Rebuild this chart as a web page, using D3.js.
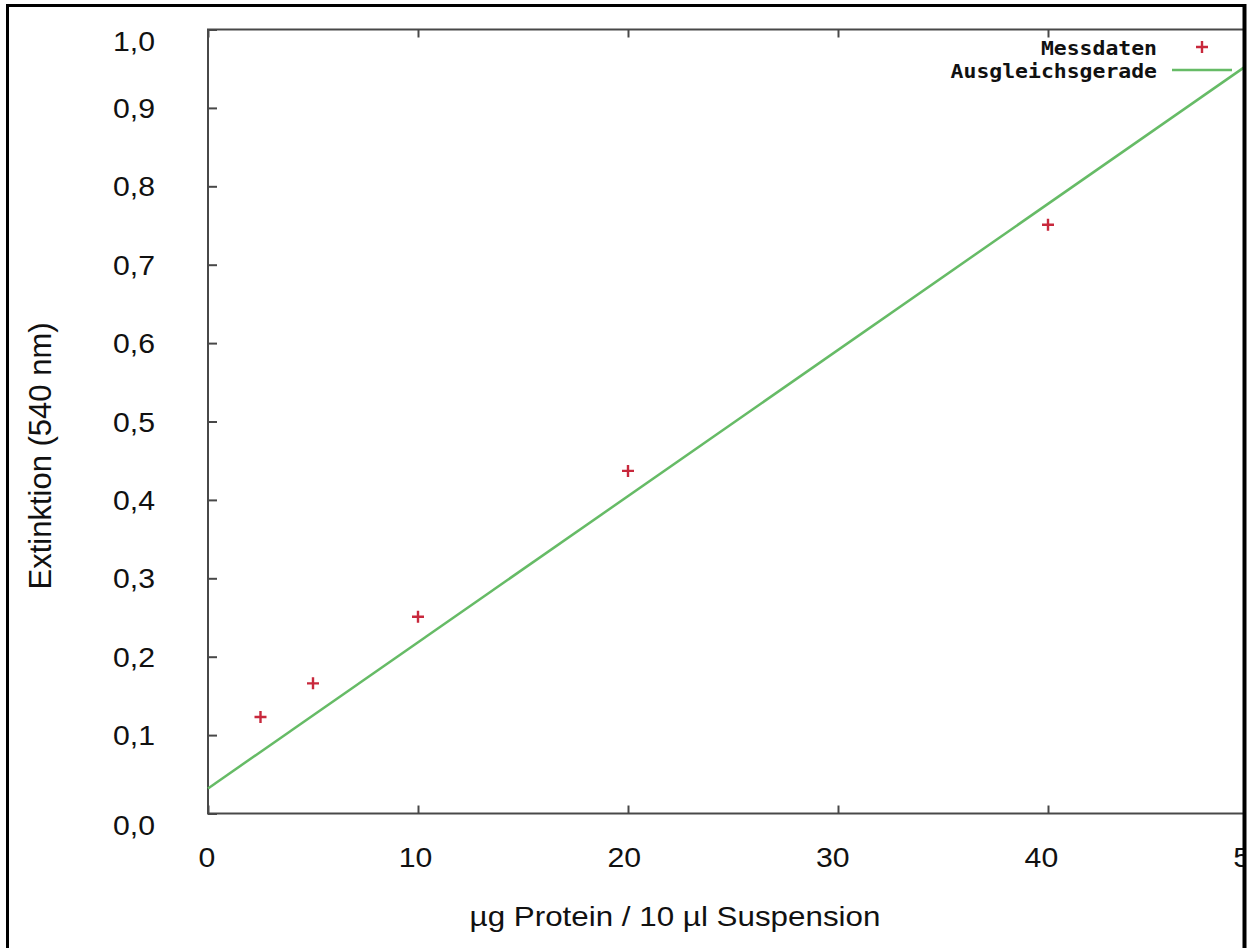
<!DOCTYPE html>
<html>
<head>
<meta charset="utf-8">
<script src="https://cdn.jsdelivr.net/npm/d3@7"></script>
<style>
  body { margin: 0; background: #fff; }
  svg { display: block; }
</style>
</head>
<body>
<div id="chart"></div>
<script>
// measured points (x: µg protein, y: extinction)
var messX = [2.5, 5, 10, 20, 40];
var messY = [0.123, 0.166, 0.251, 0.437, 0.751];

// fitted line end points
var fitX = [0, 50];
var fitY = [0.032, 0.964];

var xTicks = [0, 10, 20, 30, 40, 50];
var yTicks = [0, 0.1, 0.2, 0.3, 0.4, 0.5, 0.6, 0.7, 0.8, 0.9, 1.0];

var legendLabels = ["Messdaten", "Ausgleichsgerade"];

var width = 1247, height = 948;
var plot = {left: 208, top: 29.5, right: 1258, bottom: 813.5};

var svg = d3.select("#chart").append("svg")
    .attr("width", width)
    .attr("height", height);

var x = d3.scaleLinear().domain([0, 50]).range([plot.left, plot.right]);
var y = d3.scaleLinear().domain([0, 1]).range([plot.bottom, plot.top]);
// the tick labels sit on a slightly narrower scale than the ticks
var xLab = d3.scaleLinear().domain([0, 50]).range([207, 1250]);

var fmt = function(d) { return d3.format(".1f")(d).replace(".", ","); };

// ticks (inward, mirrored on top)
var axisColor = "#484848";
function styleAxis(g) {
    g.select(".domain").remove();
    g.selectAll(".tick line").attr("stroke", axisColor).attr("stroke-width", 2);
    g.selectAll(".tick text").remove();
}
svg.append("g")
    .attr("transform", "translate(" + plot.left + ",0)")
    .call(d3.axisLeft(y).tickValues(yTicks).tickSize(-9))
    .call(styleAxis);
svg.append("g")
    .attr("transform", "translate(0," + plot.bottom + ")")
    .call(d3.axisBottom(x).tickValues(xTicks).tickSize(-8))
    .call(styleAxis);
svg.append("g")
    .attr("transform", "translate(0," + plot.top + ")")
    .call(d3.axisTop(x).tickValues(xTicks).tickSize(-8))
    .call(styleAxis);

// plot frame
svg.append("rect")
    .attr("x", plot.left).attr("y", plot.top)
    .attr("width", plot.right - plot.left).attr("height", plot.bottom - plot.top)
    .attr("fill", "none").attr("stroke", axisColor).attr("stroke-width", 2);

// tick labels (text looks horizontally stretched in the original)
var labelFont = "'Liberation Sans', Arial, sans-serif";
svg.append("g").selectAll("text")
    .data(yTicks)
    .enter().append("text")
    .attr("transform", function(d) {
        // the end labels are pushed down a bit in the original
        var dy = (d === 0 || d === 1) ? 21 : 10;
        return "translate(155," + (y(d) + dy) + ") scale(1.12,1)";
    })
    .attr("text-anchor", "end")
    .attr("font-family", labelFont)
    .attr("font-size", 27)
    .attr("fill", "#111")
    .text(fmt);

svg.append("g").selectAll("text")
    .data(xTicks)
    .enter().append("text")
    .attr("transform", function(d) { return "translate(" + xLab(d) + ",867) scale(1.12,1)"; })
    .attr("text-anchor", "middle")
    .attr("font-family", labelFont)
    .attr("font-size", 27)
    .attr("fill", "#111")
    .text(function(d) { return d; });

// axis titles
svg.append("text")
    .attr("transform", "translate(675,926) scale(1.12,1)")
    .attr("text-anchor", "middle")
    .attr("font-family", labelFont)
    .attr("font-size", 28)
    .attr("fill", "#111")
    .text("µg Protein / 10 µl Suspension");

svg.append("text")
    .attr("transform", "translate(51,456) rotate(-90)")
    .attr("text-anchor", "middle")
    .attr("font-family", labelFont)
    .attr("font-size", 31)
    .attr("fill", "#111")
    .text("Extinktion (540 nm)");

// fit line
var green = "#66bb66";
var line = d3.line()
    .x(function(d, i) { return x(fitX[i]); })
    .y(function(d) { return y(d); });
svg.append("path")
    .datum(fitY)
    .attr("d", line)
    .attr("fill", "none")
    .attr("stroke", green)
    .attr("stroke-width", 2.5);

// data points as plus marks
var red = "#c8283c";
svg.append("g").selectAll("path")
    .data(messX)
    .enter().append("path")
    .attr("d", function(d, i) {
        var px = x(d), py = y(messY[i]);
        return "M" + (px - 6) + "," + py + "H" + (px + 6) + "M" + px + "," + (py - 6) + "V" + (py + 6);
    })
    .attr("stroke", red)
    .attr("stroke-width", 2.4)
    .attr("fill", "none");

// legend
var legend = svg.append("g");
legend.selectAll("text")
    .data(legendLabels)
    .enter().append("text")
    .attr("x", 1157)
    .attr("y", function(d, i) { return 55 + i * 23; })
    .attr("text-anchor", "end")
    .attr("font-family", "'DejaVu Sans Mono', monospace")
    .attr("font-weight", "bold")
    .attr("font-size", 19)
    .attr("fill", "#111")
    .attr("textLength", function(d) { return d.length * 12.9; })
    .attr("lengthAdjust", "spacingAndGlyphs")
    .text(function(d) { return d; });
legend.append("path")
    .attr("d", "M1196,47H1208M1202,41V53")
    .attr("stroke", red).attr("stroke-width", 2.4);
legend.append("line")
    .attr("x1", 1172).attr("x2", 1232)
    .attr("y1", 70).attr("y2", 70)
    .attr("stroke", green).attr("stroke-width", 2.5);

// outer frame of the picture
svg.append("path")
    .attr("d", "M7.5," + height + "V5.5H1244.5V" + height)
    .attr("fill", "none")
    .attr("stroke", "#000")
    .attr("stroke-width", 3);
svg.append("rect")
    .attr("x", 1243).attr("y", 0).attr("width", 4).attr("height", height)
    .attr("fill", "#fff");
svg.append("line")
    .attr("x1", 1244.5).attr("x2", 1244.5).attr("y1", 4).attr("y2", height)
    .attr("stroke", "#000").attr("stroke-width", 4);
</script>
</body>
</html>
